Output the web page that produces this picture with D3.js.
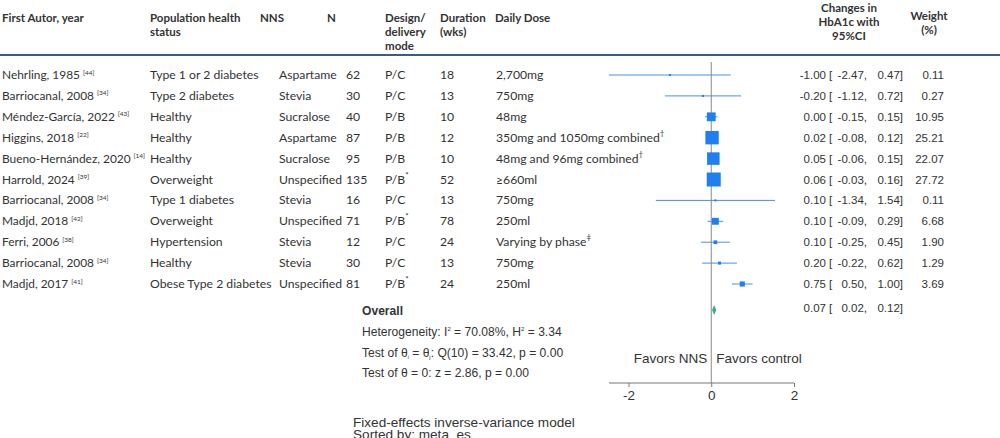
<!DOCTYPE html>
<html>
<head>
<meta charset="utf-8">
<script src="https://cdn.jsdelivr.net/npm/d3@7"></script>
<style>
  body { margin: 0; background: #fff; }
  svg { display: block; }
  .tbl { font-family: Lato, "Open Sans", sans-serif; font-size: 12.2px; fill: #333; }
  .hdr { font-family: Lato, "Open Sans", sans-serif; font-size: 11.5px; font-weight: bold; fill: #333; }
  .st { font-family: "Liberation Sans", Arial, sans-serif; font-size: 11.5px; fill: #333; }
  .st2 { font-family: "Liberation Sans", Arial, sans-serif; font-size: 12.1px; fill: #333; }
  .big { font-family: "Liberation Sans", Arial, sans-serif; font-size: 13.5px; fill: #333; }
</style>
</head>
<body>
<svg id="chart"></svg>
<script>
// study table
const authors = ["Nehrling, 1985", "Barriocanal, 2008", "Méndez-García, 2022", "Higgins, 2018",
  "Bueno-Hernández, 2020", "Harrold, 2024", "Barriocanal, 2008", "Madjd, 2018", "Ferri, 2006",
  "Barriocanal, 2008", "Madjd, 2017"];
const refs = ["44", "34", "43", "22", "14", "39", "34", "42", "38", "34", "41"];
const population = ["Type 1 or 2 diabetes", "Type 2 diabetes", "Healthy", "Healthy", "Healthy",
  "Overweight", "Type 1 diabetes", "Overweight", "Hypertension", "Healthy", "Obese Type 2 diabetes"];
const nns = ["Aspartame", "Stevia", "Sucralose", "Aspartame", "Sucralose", "Unspecified",
  "Stevia", "Unspecified", "Stevia", "Stevia", "Unspecified"];
const sampleN = [62, 30, 40, 87, 95, 135, 16, 71, 12, 30, 81];
const design = ["P/C", "P/C", "P/B", "P/B", "P/B", "P/B", "P/C", "P/B", "P/C", "P/C", "P/B"];
const designMark = ["", "", "", "", "", "*", "", "*", "", "", "*"];
const duration = [18, 13, 10, 12, 10, 52, 13, 78, 24, 13, 24];
const dose = ["2,700mg", "750mg", "48mg", "350mg and 1050mg combined", "48mg and 96mg combined",
  "≥660ml", "750mg", "250ml", "Varying by phase", "750mg", "250ml"];
const doseMark = ["", "", "", "†", "†", "", "", "", "‡", "", ""];

// effect sizes
const est = [-1.00, -0.20, 0.00, 0.02, 0.05, 0.06, 0.10, 0.10, 0.10, 0.20, 0.75];
const lo = [-2.47, -1.12, -0.15, -0.08, -0.06, -0.03, -1.34, -0.09, -0.25, -0.22, 0.50];
const hi = [0.47, 0.72, 0.15, 0.12, 0.15, 0.16, 1.54, 0.29, 0.45, 0.62, 1.00];
const weight = [0.11, 0.27, 10.95, 25.21, 22.07, 27.72, 0.11, 6.68, 1.90, 1.29, 3.69];
const overall = { est: 0.07, lo: 0.02, hi: 0.12 };
const xTicks = [-2, 0, 2];

const width = 1000, height = 438;
const svg = d3.select("#chart").attr("width", width).attr("height", height);

const idx = d3.range(authors.length);
const y = d3.scalePoint().domain(idx).range([75, 284]);
const x = d3.scaleLinear().domain([-2, 2]).range([628.5, 794]);
const size = d3.scaleSqrt().domain([0, 27.72]).range([0, 14]);
const f2 = v => v.toFixed(2);

// header
const headers = [
  { x: 2, lines: ["First Autor, year"] },
  { x: 150, lines: ["Population health", "status"] },
  { x: 260, lines: ["NNS"] },
  { x: 327, lines: ["N"] },
  { x: 385, lines: ["Design/", "delivery", "mode"] },
  { x: 440, lines: ["Duration", "(wks)"] },
  { x: 495, lines: ["Daily Dose"] },
  { x: 849, lines: ["Changes in", "HbA1c with", "95%CI"], anchor: "middle", top: 11.5 },
  { x: 929, lines: ["Weight", "(%)"], anchor: "middle", top: 19.5 }
];
headers.forEach(h => {
  const t = svg.append("text").attr("class", "hdr")
    .attr("x", h.x).attr("y", h.top || 21.5)
    .attr("text-anchor", h.anchor || "start");
  h.lines.forEach((l, i) => t.append("tspan").attr("x", h.x).attr("dy", i ? 14.3 : 0).text(l));
});

svg.append("line").attr("x1", 0).attr("x2", width).attr("y1", 55).attr("y2", 55)
  .attr("stroke", "#3d5d7a").attr("stroke-width", 2);

// table rows
const rows = svg.append("g").selectAll("g").data(idx).join("g")
  .attr("transform", i => `translate(0,${y(i) + 4})`);

const author = rows.append("text").attr("class", "tbl").style("font-size", "11.9px").attr("x", 2);
author.append("tspan").text(i => authors[i]);
author.append("tspan").style("font-size", "6.5px").attr("dx", 3).attr("dy", -4.5).text(i => `[${refs[i]}]`);

rows.append("text").attr("class", "tbl").attr("x", 150).text(i => population[i]);
rows.append("text").attr("class", "tbl").attr("x", 279).text(i => nns[i]);
rows.append("text").attr("class", "tbl").attr("x", 346).text(i => sampleN[i]);

const des = rows.append("text").attr("class", "tbl").attr("x", 385);
des.append("tspan").text(i => design[i]);
des.append("tspan").style("font-size", "8px").attr("dy", -6).text(i => designMark[i]);

rows.append("text").attr("class", "tbl").attr("x", 440).text(i => duration[i]);

const dz = rows.append("text").attr("class", "tbl").attr("x", 496);
dz.append("tspan").text(i => dose[i]);
dz.append("tspan").style("font-size", "8px").attr("dy", -6).text(i => doseMark[i]);

// effect columns
rows.append("text").attr("class", "st").attr("x", 826).attr("text-anchor", "end").text(i => f2(est[i]));
rows.append("text").attr("class", "st").attr("x", 829).text("[");
rows.append("text").attr("class", "st").attr("x", 867).attr("text-anchor", "end").text(i => f2(lo[i]) + ",");
rows.append("text").attr("class", "st").attr("x", 903).attr("text-anchor", "end").text(i => f2(hi[i]) + "]");
rows.append("text").attr("class", "st").attr("x", 944).attr("text-anchor", "end").text(i => f2(weight[i]));

// forest plot
svg.append("line").attr("x1", x(0)).attr("x2", x(0)).attr("y1", 62).attr("y2", 383)
  .attr("stroke", "#8a8a8a").attr("stroke-width", 1);

const plot = svg.append("g");
plot.selectAll("line.ci").data(idx).join("line").attr("class", "ci")
  .attr("x1", i => x(lo[i])).attr("x2", i => x(hi[i]))
  .attr("y1", i => y(i)).attr("y2", i => y(i))
  .attr("stroke", "#4a90dc").attr("stroke-width", 1);
plot.selectAll("rect").data(idx).join("rect")
  .attr("x", i => x(est[i]) - Math.max(size(weight[i]), 2) / 2)
  .attr("y", i => y(i) - Math.max(size(weight[i]), 2) / 2)
  .attr("width", i => Math.max(size(weight[i]), 2))
  .attr("height", i => Math.max(size(weight[i]), 2))
  .attr("fill", "#1e7ff0");

// overall diamond
const yo = 310;
svg.append("path")
  .attr("d", `M${x(overall.lo)},${yo} L${x(overall.est)},${yo - 5} L${x(overall.hi)},${yo} L${x(overall.est)},${yo + 5} Z`)
  .attr("fill", "#2fb08a");

svg.append("text").attr("class", "st2").attr("x", 362).attr("y", 315)
  .attr("font-weight", "bold").text("Overall");
const ov = svg.append("g").attr("transform", `translate(0,${yo + 2})`);
ov.append("text").attr("class", "st").attr("x", 826).attr("text-anchor", "end").text(f2(overall.est));
ov.append("text").attr("class", "st").attr("x", 829).text("[");
ov.append("text").attr("class", "st").attr("x", 867).attr("text-anchor", "end").text(f2(overall.lo) + ",");
ov.append("text").attr("class", "st").attr("x", 903).attr("text-anchor", "end").text(f2(overall.hi) + "]");

// heterogeneity stats
const h1 = svg.append("text").attr("class", "st2").attr("x", 362).attr("y", 336);
h1.append("tspan").text("Heterogeneity: I");
h1.append("tspan").style("font-size", "6px").attr("dy", -5).text("2");
h1.append("tspan").attr("dy", 5).text(" = 70.08%, H");
h1.append("tspan").style("font-size", "6px").attr("dy", -5).text("2");
h1.append("tspan").attr("dy", 5).text(" = 3.34");

const h2 = svg.append("text").attr("class", "st2").attr("x", 362).attr("y", 357);
h2.append("tspan").text("Test of θ");
h2.append("tspan").style("font-size", "5px").attr("dy", 2).text("i");
h2.append("tspan").attr("dy", -2).text(" = θ");
h2.append("tspan").style("font-size", "6px").attr("dy", 2).text("j");
h2.append("tspan").attr("dy", -2).text(": Q(10) = 33.42, p = 0.00");

svg.append("text").attr("class", "st2").attr("x", 362).attr("y", 377)
  .text("Test of θ = 0: z = 2.86, p = 0.00");

svg.append("text").attr("class", "big").attr("x", x(0) - 4).attr("y", 363)
  .attr("text-anchor", "end").text("Favors NNS");
svg.append("text").attr("class", "big").attr("x", x(0) + 5).attr("y", 363)
  .text("Favors control");

// x axis
const axisG = svg.append("g").attr("transform", "translate(0,383)")
  .call(d3.axisBottom(x).tickValues(xTicks).tickFormat(d => String(d))
    .tickSize(4).tickSizeOuter(0).tickPadding(3));
axisG.select(".domain").attr("d", `M${x(-2.47)},0H${x(2)}`).attr("stroke", "#777");
axisG.selectAll(".tick line").attr("stroke", "#777");
axisG.selectAll(".tick text").attr("class", "big").attr("fill", "#333");

svg.append("text").attr("class", "big").style("font-size", "13.6px").attr("x", 353).attr("y", 426.5)
  .text("Fixed-effects inverse-variance model");
svg.append("text").attr("class", "big").style("font-size", "13.6px").attr("x", 353).attr("y", 439)
  .text("Sorted by:   meta_es");
</script>
</body>
</html>
